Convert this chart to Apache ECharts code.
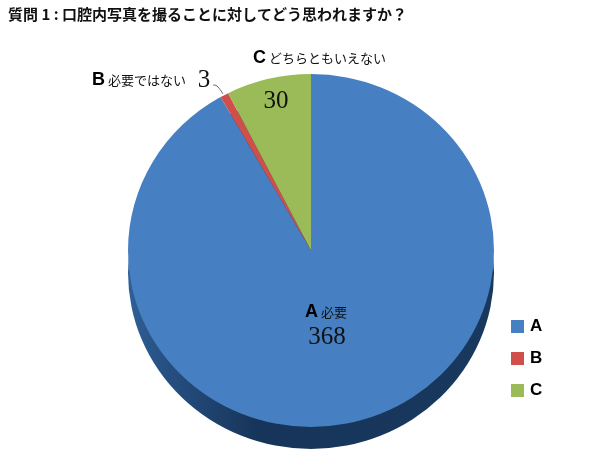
<!DOCTYPE html>
<html><head><meta charset="utf-8">
<style>html,body{margin:0;padding:0;background:#fff}#c{width:607px;height:456px}</style>
<script src="https://cdn.jsdelivr.net/npm/echarts@6/dist/echarts.min.js"></script>
</head><body><div id="c"></div>
<script>
const titleText = '質問 1 : 口腔内写真を撮ることに対してどう思われますか？';
const categories = ['A', 'B', 'C'];
const descriptions = ['必要', '必要ではない', 'どちらともいえない'];
const values = [368, 3, 30];
const colors = ['#4680C2', '#D04F4B', '#9BBB59'];

const CX = 311, CY = 250.5, RX = 183, RY = 176.5, DEPTH = 22;
const total = values.reduce((a, b) => a + b, 0);
const angleOf = v => -Math.PI / 2 + 2 * Math.PI * v / total;
const cumBefore = i => values.slice(0, i).reduce((a, b) => a + b, 0);
const ell = {originX: CX, originY: CY, scaleY: RY / RX};

const wall = {
  type: 'group',
  children: [{
    type: 'sector', ...ell, y: DEPTH,
    shape: {cx: CX, cy: CY, r: RX, r0: 0, startAngle: 0, endAngle: Math.PI * 2},
    style: {fill: {type: 'linear', x: 0, y: 0, x2: 1, y2: 0, colorStops: [
      {offset: 0, color: '#2F6096'}, {offset: 0.1, color: '#265082'},
      {offset: 0.35, color: '#17355A'}, {offset: 1, color: '#19385E'}]}}
  }]
};

function sliceItem(i) {
  return function () {
    const sector = {
      type: 'sector', ...ell,
      shape: {cx: CX, cy: CY, r: RX, r0: 0, clockwise: true,
        startAngle: angleOf(cumBefore(i)), endAngle: angleOf(cumBefore(i) + values[i])},
      style: {fill: colors[i]}
    };
    return i === 0 ? {type: 'group', children: [wall, sector]} : sector;
  };
}

const rich = {
  k: {fontFamily: '"Liberation Sans"', fontWeight: 'bold', fontSize: 18, fill: '#000', padding: [0, 3, 0, 0]},
  d: {fontFamily: '"Noto Sans CJK JP"', fontSize: 13, fill: '#111'}
};
const label = (i, x, y, align) => ({
  type: 'text', x, y, z: 50,
  style: {text: `{k|${categories[i]}}{d|${descriptions[i]}}`, rich, align, verticalAlign: 'middle'}
});
const num = (i, x, y) => ({
  type: 'text', x, y, z: 50,
  style: {text: String(values[i]), fontFamily: '"Liberation Serif"', fontSize: 25, fill: '#111',
    align: 'center', verticalAlign: 'middle'}
});

const chart = echarts.init(document.getElementById('c'), null, {renderer: 'canvas'});
chart.setOption({
  animation: false,
  backgroundColor: '#fff',
  title: {
    text: titleText, left: 3, top: 2,
    textStyle: {fontFamily: '"Noto Sans CJK JP"', fontWeight: 'bold', fontSize: 15, color: '#111'}
  },
  legend: {
    orient: 'vertical', left: 506, top: 313, itemWidth: 13, itemHeight: 13, itemGap: 15,
    icon: 'rect', data: categories,
    textStyle: {fontFamily: '"Liberation Sans"', fontWeight: 'bold', fontSize: 17, color: '#000', padding: [0, 0, 0, 1]}
  },
  series: categories.map((name, i) => ({
    type: 'custom', name, coordinateSystem: 'none', silent: true,
    itemStyle: {color: colors[i]}, z: 2 + i,
    data: [values[i]], renderItem: sliceItem(i)
  })),
  graphic: [
    label(2, 253, 58, 'left'),
    label(1, 92, 80, 'left'),
    label(0, 305, 312, 'left'),
    num(2, 276, 101),
    num(1, 204, 80),
    num(0, 327, 337),
    {type: 'polyline', z: 50, shape: {points: [[213, 85], [217, 86], [223, 94]], smooth: 0.4},
      style: {stroke: '#666', lineWidth: 1, fill: 'none'}}
  ]
});
</script></body></html>
